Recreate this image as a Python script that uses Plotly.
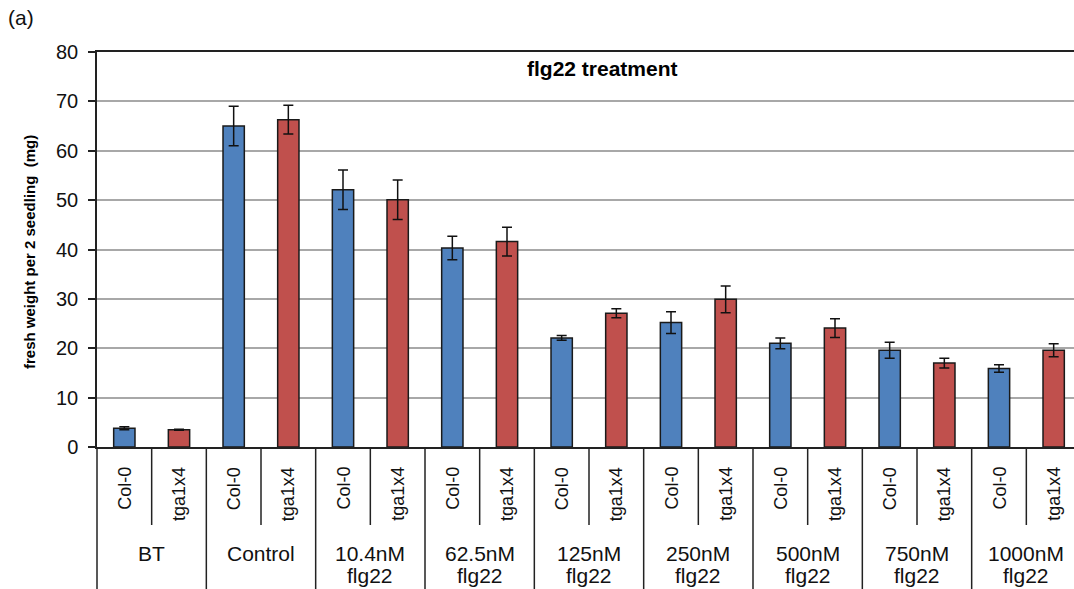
import plotly.graph_objects as go

# ---- data ----
groups = ["BT", "Control", "10.4nM\nflg22", "62.5nM\nflg22", "125nM\nflg22",
          "250nM\nflg22", "500nM\nflg22", "750nM\nflg22", "1000nM\nflg22"]
genotypes = ["Col-0", "tga1x4"]
col0_mean = [3.8, 65.0, 52.1, 40.3, 22.1, 25.2, 21.0, 19.6, 15.9]
col0_err = [0.3, 4.0, 4.0, 2.4, 0.5, 2.2, 1.1, 1.6, 0.75]
tga_mean = [3.5, 66.3, 50.1, 41.6, 27.1, 29.9, 24.1, 17.0, 19.6]
tga_err = [0.1, 2.9, 4.0, 2.9, 0.9, 2.7, 1.9, 1.0, 1.3]
y_ticks = [0, 10, 20, 30, 40, 50, 60, 70, 80]

FONT = "Liberation Sans, Arial, sans-serif"
BLUE = "#4F81BD"
RED = "#C0504D"

# category positions (each group -> two categories)
cats = []
for gi, g in enumerate(groups):
    for gt in genotypes:
        cats.append(f"{gi}|{gt}")
col_x = [f"{gi}|Col-0" for gi in range(len(groups))]
tga_x = [f"{gi}|tga1x4" for gi in range(len(groups))]

W, H = 1074, 589
L, T, B = 97, 52, 142
plot_h = H - T - B          # 395
plot_w = W - L              # 977
full_w = 984                # full width of 18 cells (extends past window)
n = len(cats)
x_hi = -0.5 + n * plot_w / full_w


def py(px):  # pixel y -> paper y
    return (H - B - px) / plot_h


def pxx(px):  # pixel x -> paper x
    return (px - L) / plot_w


fig = go.Figure()
fig.add_trace(go.Bar(
    x=col_x, y=col0_mean, name="Col-0", width=0.39,
    marker=dict(color=BLUE, line=dict(color="#1a1a1a", width=1.5)),
    error_y=dict(type="data", array=col0_err, visible=True,
                 color="#111111", thickness=1.5, width=5),
))
fig.add_trace(go.Bar(
    x=tga_x, y=tga_mean, name="tga1x4", width=0.39,
    marker=dict(color=RED, line=dict(color="#1a1a1a", width=1.5)),
    error_y=dict(type="data", array=tga_err, visible=True,
                 color="#111111", thickness=1.5, width=5),
))

shapes = []
# left edge line continuing down
shapes.append(dict(type="line", xref="paper", yref="paper", x0=0, x1=0,
                   y0=py(H), y1=0, line=dict(color="#222222", width=1.5)))
for i in range(n - 1):
    xpos = i + 0.5
    if i % 2 == 1:   # group boundary
        y_end = py(H)
    else:            # within group
        y_end = py(525)
    shapes.append(dict(type="line", xref="x", yref="paper", x0=xpos, x1=xpos,
                       y0=0, y1=y_end, line=dict(color="#222222", width=1.5)))

annotations = []
for i, c in enumerate(cats):
    gt = c.split("|")[1]
    annotations.append(dict(
        x=i, y=py(465), xref="x", yref="paper", text=gt, textangle=-90,
        showarrow=False, xanchor="center", yanchor="top",
        font=dict(family=FONT, size=18, color="#111111")))
for gi, g in enumerate(groups):
    lines = g.split("\n")
    xc = gi * 2 + 0.5
    for li, line in enumerate(lines):
        annotations.append(dict(
            x=xc, y=py(553 + 22 * li), xref="x", yref="paper", text=line,
            showarrow=False, xanchor="center", yanchor="middle",
            font=dict(family=FONT, size=21, color="#111111")))

annotations.append(dict(
    x=pxx(602), y=py(68), xref="paper", yref="paper",
    text="<b>flg22 treatment</b>", showarrow=False,
    xanchor="center", yanchor="middle",
    font=dict(family=FONT, size=21, color="#000000")))
annotations.append(dict(
    x=pxx(29), y=py(252), xref="paper", yref="paper",
    text="<b>fresh weight per 2 seedling  (mg)</b>", textangle=-90,
    showarrow=False, xanchor="center", yanchor="middle",
    font=dict(family=FONT, size=15, color="#000000")))
annotations.append(dict(
    x=pxx(6), y=py(18), xref="paper", yref="paper", text="(a)",
    showarrow=False, xanchor="left", yanchor="middle",
    font=dict(family=FONT, size=21, color="#111111")))

fig.update_layout(
    width=W, height=H,
    margin=dict(l=L, r=0, t=T, b=B, pad=0),
    paper_bgcolor="white", plot_bgcolor="white",
    barmode="overlay", showlegend=False,
    shapes=shapes, annotations=annotations,
    xaxis=dict(type="category", categoryorder="array", categoryarray=cats,
               range=[-0.5, x_hi], showticklabels=False, ticks="",
               showgrid=False, zeroline=False, showline=True,
               linecolor="#222222", linewidth=1.5, mirror=True),
    yaxis=dict(range=[0, 80], tickvals=y_ticks, ticks="outside", ticklen=7,
               tickwidth=1.5, tickcolor="#222222",
               showgrid=True, gridcolor="#a8a8a8", gridwidth=1.5,
               zeroline=False, showline=True, linecolor="#222222",
               linewidth=1.5, ticklabelstandoff=6,
               tickfont=dict(family=FONT, size=20, color="#111111")),
)

fig.write_html("out.html",
               config={"displayModeBar": False},
               post_script="document.body.style.margin='0';"
                           "document.body.style.overflow='hidden';")
